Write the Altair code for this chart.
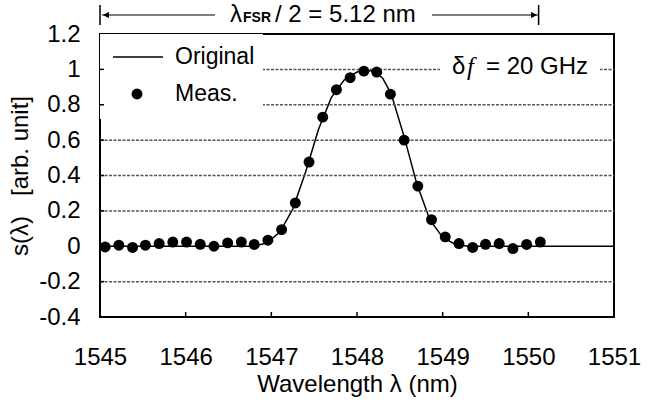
import altair as alt
import pandas as pd

# Measured points
wl_meas = [1545.06, 1545.22, 1545.38, 1545.53, 1545.69, 1545.85, 1546.01, 1546.17,
           1546.33, 1546.49, 1546.65, 1546.80, 1546.96, 1547.12, 1547.28, 1547.44,
           1547.60, 1547.76, 1547.92, 1548.08, 1548.23, 1548.39, 1548.55, 1548.71,
           1548.87, 1549.03, 1549.19, 1549.35, 1549.50, 1549.66, 1549.82, 1549.98,
           1550.14]
s_meas = [-0.004, 0.006, -0.007, 0.006, 0.015, 0.024, 0.024, 0.011,
          0.0, 0.019, 0.024, 0.010, 0.034, 0.094, 0.245, 0.476,
          0.730, 0.885, 0.953, 0.990, 0.985, 0.860, 0.600, 0.340,
          0.150, 0.053, 0.015, -0.007, 0.011, 0.015, -0.013, 0.010,
          0.024]

# Original curve
wl_orig = [1545.0, 1546.8, 1546.95, 1547.1, 1547.25, 1547.4, 1547.55, 1547.7, 1547.85,
           1548.0, 1548.1, 1548.2, 1548.3, 1548.4, 1548.55, 1548.7, 1548.85, 1549.0,
           1549.15, 1549.3, 1551.0]
s_orig = [0, 0, 0.02, 0.08, 0.21, 0.42, 0.66, 0.84, 0.94,
          0.985, 0.995, 0.99, 0.95, 0.86, 0.62, 0.35, 0.15, 0.05,
          0.01, 0, 0]

grid_vals = [1.0, 0.8, 0.6, 0.4, 0.2, -0.2]
y_ticks = [-0.4, -0.2, 0, 0.2, 0.4, 0.6, 0.8, 1.0, 1.2]
x_ticks = [1545, 1546, 1547, 1548, 1549, 1550, 1551]
x_inner_ticks = [1546, 1547, 1548, 1549, 1550]
fsr_start, fsr_end = 1545.0, 1550.12

FONT = "Liberation Sans"
W, H = 514, 283
NB = "\u00a0"

meas = pd.DataFrame({"wl": wl_meas, "s": s_meas})
orig = pd.DataFrame({"wl": wl_orig, "s": s_orig})
grid = pd.DataFrame({"g": grid_vals})

xs = alt.Scale(domain=[1545, 1551], nice=False, zero=False)
ys = alt.Scale(domain=[-0.4, 1.2], nice=False, zero=False)

AXX = alt.Axis(
    values=x_ticks, format="d", title="Wavelength λ (nm)", grid=False,
    ticks=False, tickSize=0, domain=False, labelPadding=28,
    labelOverlap=False, labelFlush=False, labelBound=False,
    labelFontSize=24, titleFontSize=24, titleFontWeight="normal",
    titlePadding=3, labelColor="black", titleColor="black", labelFont=FONT, titleFont=FONT)
AXY = alt.Axis(
    values=y_ticks, labelExpr="replace(format(datum.value, '.1~f'), '−', '-')",
    title="s(λ)" + NB * 3 + "[arb. unit]", grid=False, ticks=False, tickSize=0, domain=False,
    labelOverlap=False, labelFlush=False, labelBound=False, labelSeparation=0,
    labelPadding=20, labelFontSize=24, titleFontSize=24, titleFontWeight="normal",
    titlePadding=6, labelColor="black", titleColor="black", labelFont=FONT, titleFont=FONT)

base_line = alt.Chart(orig).mark_line(color="black", strokeWidth=1.5).encode(
    x=alt.X("wl:Q", scale=xs, axis=AXX), y=alt.Y("s:Q", scale=ys, axis=AXY))

gridlines = alt.Chart(grid).mark_rule(color="#555", strokeWidth=1.5, strokeDash=[3, 1.5]).encode(
    y=alt.Y("g:Q", scale=ys, axis=AXY), x=alt.value(0), x2=alt.value(W))

one = pd.DataFrame({"a": [0]})
legend_bg = alt.Chart(one).mark_rect(color="white").encode(
    x=alt.value(0), x2=alt.value(163), y=alt.value(0), y2=alt.value(85))
df_bg = alt.Chart(one).mark_rect(color="white").encode(
    x=alt.value(340), x2=alt.value(500), y=alt.value(22), y2=alt.value(45))

points = alt.Chart(meas).mark_circle(color="black", opacity=1, size=120).encode(
    x=alt.X("wl:Q", scale=xs, axis=AXX), y=alt.Y("s:Q", scale=ys, axis=AXY))

xt = pd.DataFrame({"t": x_inner_ticks})
xtick_marks = alt.Chart(xt).mark_rule(color="black", strokeWidth=1.5).encode(
    x=alt.X("t:Q", scale=xs, axis=AXX), y=alt.value(H), y2=alt.value(H - 5))
yt = pd.DataFrame({"t": y_ticks[1:-1]})
ytick_marks = alt.Chart(yt).mark_rule(color="black", strokeWidth=1.5).encode(
    y=alt.Y("t:Q", scale=ys, axis=AXY), x=alt.value(0), x2=alt.value(4))

# legend
leg_line = alt.Chart(one).mark_rule(color="black", strokeWidth=1.5).encode(
    x=alt.value(13), x2=alt.value(63), y=alt.value(23))
leg_dot = alt.Chart(one).mark_circle(color="black", opacity=1, size=120).encode(
    x=alt.value(37), y=alt.value(60))
leg_txt1 = alt.Chart(one).mark_text(text="Original", align="left", baseline="middle",
                                    font=FONT, fontSize=23, color="black").encode(
    x=alt.value(75), y=alt.value(23))
leg_txt2 = alt.Chart(one).mark_text(text="Meas.", align="left", baseline="middle",
                                    font=FONT, fontSize=23, color="black").encode(
    x=alt.value(75), y=alt.value(60))

# delta f annotation
df_t1 = alt.Chart(one).mark_text(text="δ", align="left", baseline="middle",
                                 font=FONT, fontSize=24, color="black").encode(
    x=alt.value(352), y=alt.value(33))
df_t2 = alt.Chart(one).mark_text(text="f", align="left", baseline="middle",
                                 font="Liberation Serif", fontStyle="italic", fontSize=25,
                                 color="black").encode(x=alt.value(367), y=alt.value(33))
df_t3 = alt.Chart(one).mark_text(text="= 20 GHz", align="left", baseline="middle",
                                 font=FONT, fontSize=24, color="black").encode(
    x=alt.value(386), y=alt.value(33))

# FSR arrow annotation
AY = -19
ends = pd.DataFrame({"e": [fsr_start, fsr_end]})
bars = alt.Chart(ends).mark_rule(color="black", strokeWidth=1.5).encode(
    x=alt.X("e:Q", scale=xs, axis=AXX), y=alt.value(AY - 10), y2=alt.value(AY + 10))
seg_l = alt.Chart(one).mark_rule(color="black", strokeWidth=1).encode(
    x=alt.value(2), x2=alt.value(115), y=alt.value(AY))
seg_r = alt.Chart(one).mark_rule(color="black", strokeWidth=1).encode(
    x=alt.value(332), x2=alt.value(438), y=alt.value(AY))
head_l = alt.Chart(one).mark_point(shape="triangle-left", filled=True, color="black",
                                   opacity=1, size=45).encode(x=alt.value(6), y=alt.value(AY))
head_r = alt.Chart(one).mark_point(shape="triangle-right", filled=True, color="black",
                                   opacity=1, size=45).encode(x=alt.value(434), y=alt.value(AY))
fsr_t1 = alt.Chart(one).mark_text(text="λ", align="left", baseline="middle",
                                  font=FONT, fontSize=24, color="black").encode(
    x=alt.value(130), y=alt.value(AY))
fsr_t2 = alt.Chart(one).mark_text(text="FSR", align="left", baseline="middle",
                                  font=FONT, fontSize=14, fontWeight="bold", color="black").encode(
    x=alt.value(143), y=alt.value(AY + 3))
fsr_t3 = alt.Chart(one).mark_text(text="/ 2 = 5.12 nm", align="left", baseline="middle",
                                  font=FONT, fontSize=24, color="black").encode(
    x=alt.value(175), y=alt.value(AY))

chart = alt.layer(
    base_line, gridlines, legend_bg, df_bg, points, xtick_marks, ytick_marks,
    leg_line, leg_dot, leg_txt1, leg_txt2, df_t1, df_t2, df_t3,
    bars, seg_l, seg_r, head_l, head_r, fsr_t1, fsr_t2, fsr_t3
).properties(
    width=W, height=H,
    autosize=alt.AutoSizeParams(type="none"),
    padding={"left": 100, "top": 34, "right": 37, "bottom": 92},
    background="white"
).configure_view(stroke="black", strokeWidth=2)

chart.save("out.html", embed_options={"renderer": "svg", "actions": False})
